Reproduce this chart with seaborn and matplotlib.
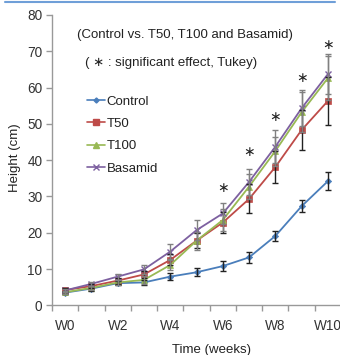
import matplotlib
matplotlib.use("Agg")
import matplotlib.pyplot as plt
import seaborn as sns
import pandas as pd
from matplotlib.lines import Line2D

weeks = ["W0", "W1", "W2", "W3", "W4", "W5", "W6", "W7", "W8", "W9", "W10"]
control = [3.5, 4.6, 6.1, 6.3, 7.9, 9.1, 10.8, 13.2, 19.1, 27.3, 34.2]
t50 = [4.2, 5.3, 6.8, 8.5, 12.5, 17.8, 22.8, 29.3, 38.1, 48.3, 56.3]
t100 = [3.6, 4.8, 6.3, 7.0, 11.1, 17.8, 23.5, 32.7, 42.5, 53.2, 62.6]
basamid = [4.1, 5.9, 7.9, 9.9, 14.8, 20.7, 25.3, 34.0, 43.7, 54.3, 63.7]
err_control = [0.5, 0.6, 0.6, 0.7, 1.0, 1.1, 1.3, 1.5, 1.3, 1.7, 2.5]
err_t50 = [0.5, 0.6, 0.8, 1.0, 1.5, 2.0, 3.0, 4.0, 4.5, 5.5, 6.5]
err_t100 = [0.4, 0.6, 0.8, 1.0, 1.5, 2.5, 3.0, 3.5, 4.0, 5.5, 6.0]
err_basamid = [0.5, 0.6, 0.8, 1.2, 2.0, 2.8, 3.0, 3.5, 4.5, 5.0, 5.5]
series_names = ["Control", "T50", "T100", "Basamid"]
sig_weeks = ["W6", "W7", "W8", "W9", "W10"]
sig_heights = [32.2, 42.3, 52.0, 62.7, 71.7]

colors = {"Control": "#4a7ebb", "T50": "#be4b48", "T100": "#98b954", "Basamid": "#7d60a0"}
markers = {"Control": "D", "T50": "s", "T100": "^", "Basamid": "x"}
msizes = {"Control": 3.2, "T50": 5, "T100": 5, "Basamid": 5}
ecolors = {"Control": "#222222", "T50": "#222222", "T100": "#808080", "Basamid": "#808080"}

vals = {"Control": control, "T50": t50, "T100": t100, "Basamid": basamid}
errs = {"Control": err_control, "T50": err_t50, "T100": err_t100, "Basamid": err_basamid}

rows = []
for name in series_names:
    for i, w in enumerate(weeks):
        rows.append({"week": i, "label": w, "height": vals[name][i], "err": errs[name][i], "series": name})
df = pd.DataFrame(rows)

sns.set_style("white")
plt.rcParams["font.family"] = ["Liberation Sans", "DejaVu Sans"]

fig = plt.figure(figsize=(3.4, 3.55), dpi=100)
ax = fig.add_axes([52 / 340, (355 - 305.3) / 355, 289 / 340, 290.3 / 355])

for name in series_names:
    sub = df[df.series == name]
    ax.errorbar(sub.week, sub.height, yerr=sub.err, fmt="none", ecolor=ecolors[name],
                elinewidth=1.0, capsize=2, capthick=1.0, zorder=4)

for name in series_names:
    sub = df[df.series == name]
    sns.lineplot(data=sub, x="week", y="height", ax=ax, color=colors[name],
                 marker=markers[name], markersize=msizes[name],
                 markeredgecolor=colors[name], markeredgewidth=1.0 if name == "Basamid" else 0.5,
                 linewidth=1.3, legend=False, zorder=3)

for w, h in zip(sig_weeks, sig_heights):
    ax.text(weeks.index(w), h, "∗", ha="center", va="center", fontsize=10,
            family=["DejaVu Sans"], color="#222222")

ax.set_xlim(-0.5, 10.5)
ax.set_ylim(0, 80)
ax.set_yticks(range(0, 81, 10))
ax.set_xticks(range(0, 11, 2))
ax.set_xticklabels([weeks[i] for i in range(0, 11, 2)])
ax.set_xticks([i - 0.5 for i in range(0, 12)], minor=True)
ax.tick_params(axis="x", which="major", length=0, pad=10, labelsize=9.8, colors="#333333")
ax.tick_params(axis="x", which="minor", length=4, color="#999999", width=1, direction="out", bottom=True)
ax.tick_params(axis="y", length=4, color="#999999", width=1, direction="out", left=True,
               labelsize=9.8, colors="#333333", pad=3)
for t in ax.get_yticklines():
    t.set_color("#999999")
for s in ["top", "right"]:
    ax.spines[s].set_visible(False)
for s in ["left", "bottom"]:
    ax.spines[s].set_color("#999999")
    ax.spines[s].set_linewidth(1)

ax.set_xlabel("")
ax.set_ylabel("")
fig.text(212 / 340, 1 - 350 / 355, "Time (weeks)", ha="center", va="center", fontsize=9.5, color="#222222")
fig.text(15 / 340, 1 - 157.5 / 355, "Height (cm)", ha="center", va="center", rotation=90, fontsize=9.5, color="#222222")

fig.text(185 / 340, 1 - 35 / 355, "(Control vs. T50, T100 and Basamid)", ha="center", va="center",
         fontsize=9.5, color="#222222")
fig.text(171 / 340, 1 - 63 / 355, "( ∗ : significant effect, Tukey)", ha="center", va="center",
         fontsize=9.5, color="#222222", family=["Liberation Sans", "DejaVu Sans"])

handles = [Line2D([0], [0], color=colors[n], marker=markers[n], markersize=msizes[n] * 0.8,
                  markeredgecolor=colors[n], linewidth=1.2) for n in series_names]
leg = ax.legend(handles, series_names, loc="upper left", bbox_to_anchor=(87 / 340, 1 - 95.5 / 355),
                bbox_transform=fig.transFigure, frameon=False, fontsize=9.5, handlelength=1.4,
                handletextpad=0.1, labelspacing=0.76, borderpad=0, borderaxespad=0)
for t in leg.get_texts():
    t.set_color("#222222")

fig.add_artist(Line2D([5 / 340, 335 / 340], [1 - 1.5 / 355, 1 - 1.5 / 355], color="#6f9fd8",
                      linewidth=1.5, transform=fig.transFigure))

fig.savefig("out.png", dpi=100)
